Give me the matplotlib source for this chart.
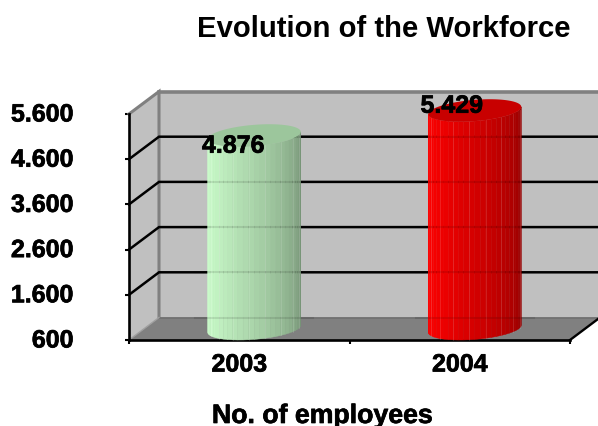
import numpy as np
import matplotlib
matplotlib.use('Agg')
import matplotlib.pyplot as plt
import matplotlib.patheffects as pe
from matplotlib.colors import to_rgb
from matplotlib.patches import Polygon
from matplotlib.transforms import ScaledTranslation

years = ['2003', '2004']
employees = [4876, 5429]
value_labels = ['4.876', '5.429']
y_ticks = [600, 1600, 2600, 3600, 4600, 5600]
y_tick_labels = ['600', '1.600', '2.600', '3.600', '4.600', '5.600']
bar_light = ['#ccffcc', '#ff0000']
bar_top = ['#9cc69c', '#c80000']

W, H = 598, 426
text_font = 'Liberation Sans'
heavy = [pe.withStroke(linewidth=0.5, foreground='black')]

fig = plt.figure(figsize=(W / 100, H / 100), dpi=100)
ax = fig.add_axes([129 / W, (H - 340) / H, 441 / W, 226 / H])
ax.set_xlim(-0.5, 1.5)
ax.set_ylim(y_ticks[0], y_ticks[-1])

# depth of the fake 3d box, in data units
px_x = 441 / 2
px_y = 226 / (y_ticks[-1] - y_ticks[0])
dx = 30 / px_x
dy = 22.5 / px_y
x0, x1 = -0.5, 1.5
y0, y1 = y_ticks[0], y_ticks[-1]


def poly(pts, **kw):
    p = Polygon(pts, closed=True, clip_on=False, **kw)
    ax.add_patch(p)
    return p


# walls and floor
poly([(x0 + dx, y0 + dy), (x1 + dx, y0 + dy), (x1 + dx, y1 + dy), (x0 + dx, y1 + dy)],
     fc='#c0c0c0', ec='none', zorder=1)
poly([(x0, y0), (x0 + dx, y0 + dy), (x0 + dx, y1 + dy), (x0, y1)],
     fc='#c0c0c0', ec='none', zorder=1)
poly([(x0, y0), (x1, y0), (x1 + dx, y0 + dy), (x0 + dx, y0 + dy)],
     fc='#808080', ec='none', zorder=1)

# grey frame
ax.plot([x0, x0 + dx, x0 + dx], [y1, y1 + dy, y0 + dy], color='#808080', lw=2.2,
        clip_on=False, zorder=2, solid_joinstyle='miter')
ax.plot([x0 + dx, x1 + dx], [y1 + dy, y1 + dy], color='#808080', lw=2.6, clip_on=False, zorder=2)
ax.plot([x0 + dx, x1 + dx], [y0 + dy, y0 + dy], color='#707070', lw=1.2, clip_on=False, zorder=2)
ax.plot([x0, x0 + dx], [y0, y0 + dy], color='#a0a0a0', lw=1.0, clip_on=False, zorder=2)

# grid lines
for v in y_ticks[1:-1]:
    ax.plot([x0, x0 + dx, x1 + dx], [v, v + dy, v + dy], color='black', lw=1.8,
            clip_on=False, zorder=3, solid_joinstyle='miter')
ax.plot([x1, x1 + dx], [y0, y0 + dy], color='black', lw=1.7, clip_on=False, zorder=3)

# cylinders
half_w = 44 / px_x
n_strips = 26
for i in range(len(years)):
    cx = i + dx / 2
    cy0 = y0 + dy / 2
    cy1 = employees[i] + dy / 2
    t0 = np.arctan2(dx / 2, half_w)
    edges = np.linspace(t0 + np.pi, t0 + 2 * np.pi, n_strips + 1)
    ex = cx + half_w * np.cos(edges) + dx / 2 * np.sin(edges)
    ey = dy / 2 * np.sin(edges)
    base = np.array(to_rgb(bar_light[i]))
    for k in range(n_strips):
        f = k / (n_strips - 1)
        col = base * (1 - 0.42 * f ** 1.3)
        pts = [(ex[k], cy0 + ey[k]), (ex[k + 1], cy0 + ey[k + 1]),
               (ex[k + 1], cy1 + ey[k + 1]), (ex[k], cy1 + ey[k])]
        poly(pts, fc=col, ec=col, lw=0.3, zorder=4)
        if k % 3 == 0 and k > 0:
            ax.plot([ex[k], ex[k]], [cy0 + ey[k], cy1 + ey[k]], color='white', alpha=0.15,
                    lw=0.6, clip_on=False, zorder=4.5)
    t = np.linspace(0, 2 * np.pi, 100)
    poly(np.c_[cx + half_w * np.cos(t) + dx / 2 * np.sin(t), cy1 + dy / 2 * np.sin(t)],
         fc=bar_top[i], ec='none', zorder=5)
    # grid lines and floor edge show faintly through the body
    for v in y_ticks[1:-1] + [y0]:
        if v + dy < cy1:
            ax.plot([cx - half_w - dx / 2, cx + half_w + dx / 2], [v + dy, v + dy], color='black',
                    alpha=0.1, lw=1.5, clip_on=False, zorder=4.6)

# data labels
label_shift = [(-6, 1), (-8, 16)]
for i in range(len(years)):
    ax.annotate(value_labels[i], (i, employees[i]), xytext=label_shift[i], textcoords='offset pixels',
                ha='center', va='center', fontsize=18, fontweight='bold', family=text_font,
                color='black', zorder=6, annotation_clip=False, path_effects=heavy)

# axes
for s in ['top', 'right']:
    ax.spines[s].set_visible(False)
ax.patch.set_visible(False)
for s in ['left', 'bottom']:
    ax.spines[s].set_linewidth(1.9)
    ax.spines[s].set_zorder(3.5)
ax.set_yticks(y_ticks)
ax.set_yticklabels(y_tick_labels, fontsize=18, fontweight='bold', family=text_font, path_effects=heavy)
ax.tick_params(axis='y', length=3, width=1.5, pad=37)
for lab in ax.get_yticklabels():
    lab.set_transform(lab.get_transform() + ScaledTranslation(0, 2 / 72 * 0.72, fig.dpi_scale_trans))
ax.set_xticks([-0.5, 0.5, 1.5])
ax.set_xticklabels([])
ax.tick_params(axis='x', length=3, width=1.5)
ax.set_xticks([0, 1], minor=True)
ax.set_xticklabels(years, minor=True, fontsize=18, fontweight='bold', family=text_font, path_effects=heavy)
ax.tick_params(axis='x', which='minor', length=0, pad=9)

ax.set_xlabel('No. of employees', fontsize=19.2, fontweight='bold', family=text_font, path_effects=heavy)
ax.xaxis.set_label_coords((322 - 129) / 441, -(423 - 340) / 226, transform=ax.transAxes)
ax.xaxis.label.set_verticalalignment('baseline')

fig.text(384 / W, 1 - 29 / H, 'Evolution of the Workforce', ha='center', va='center',
         fontsize=21.1, fontweight='bold', family=text_font)

fig.savefig('out.png', dpi=100)
